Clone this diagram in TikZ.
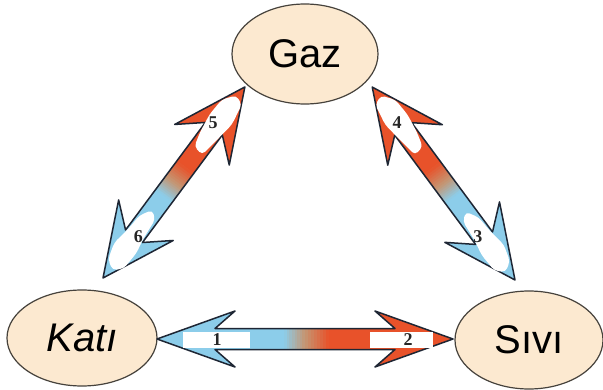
\documentclass[tikz,border=0pt]{standalone}
\usepackage{fontspec}
\setmainfont{Liberation Sans}
\newfontfamily\numfont{Liberation Serif}
\usetikzlibrary{shapes.geometric}
\definecolor{cblue}{RGB}{140,205,234}
\definecolor{cred}{RGB}{232,82,42}
\definecolor{ctan}{RGB}{196,150,115}
\definecolor{cline}{RGB}{30,38,52}
\definecolor{cbeige}{RGB}{252,233,208}
\definecolor{cring}{RGB}{70,66,60}
\tikzset{
  bubble/.style={ellipse, draw=cring, line width=1.2pt, fill=cbeige, inner sep=0pt,
    font=\fontsize{40}{40}\selectfont},
  arrowline/.style={draw=cline, line width=1.5pt, line join=round},
  numlab/.style={font=\numfont\bfseries\fontsize{18}{18}\selectfont, text=black!85, inner sep=0pt},
  patch/.style={fill=white},
}
% #1 length, #2 barb half width, #3 barb distance, #4 join distance
\newcommand\arrowbody[4]{%
  \begin{scope}
    \clip (0,0) -- (#3,#2) -- (#4,10.5) -- ({#1-#4},10.5) -- ({#1-#3},#2) -- (#1,0)
      -- ({#1-#3},-#2) -- ({#1-#4},-10.5) -- (#4,-10.5) -- (#3,-#2) -- cycle;
    \fill[cblue] (-2,-40) rectangle ({0.43*#1+0.5},40);
    \fill[cred] ({0.58*#1},-40) rectangle ({#1+2},40);
    \foreach \i in {0,...,7}{%
      \pgfmathtruncatemacro\mixp{round((\i+0.5)/8*100)}%
      \fill[ctan!\mixp!cblue] ({(0.43+0.00875*\i)*#1},-40) rectangle ({(0.43+0.00875*(\i+1))*#1+0.6},40);}
    \foreach \i in {0,...,7}{%
      \pgfmathtruncatemacro\mixp{round((\i+0.5)/8*100)}%
      \fill[cred!\mixp!ctan] ({(0.5+0.01*\i)*#1},-40) rectangle ({(0.5+0.01*(\i+1))*#1+0.6},40);}
  \end{scope}
  \draw[arrowline] (0,0) -- (#3,#2) -- (#4,10.5) -- ({#1-#4},10.5) -- ({#1-#3},#2) -- (#1,0)
      -- ({#1-#3},-#2) -- ({#1-#4},-10.5) -- (#4,-10.5) -- (#3,-#2) -- cycle;
}
\begin{document}
\begin{tikzpicture}[x=1pt,y=1pt]
\useasboundingbox (0,0) rectangle (603,389);
\fill[white] (0,0) rectangle (603,389);

\node[bubble, minimum width=146pt, minimum height=100pt] (gaz) at (305,335) {Gaz};
\node[bubble, minimum width=150pt, minimum height=96pt] (kati) at (82,51) {\itshape Katı};
\node[bubble, minimum width=148pt, minimum height=98pt] (sivi) at (529,49) {Sıvı};

\coordinate (h0) at (157,50);
\coordinate (l0) at (103,111);
\coordinate (r0) at (515,109);

% horizontal arrow: Kati <-> Sivi
\begin{scope}[shift={(h0)}]
  \arrowbody{296}{28}{78}{58}
  \fill[patch] (26,-9) rectangle (93,7);
  \fill[patch] (213,-9) rectangle (276,7);
  \node[numlab] (n1) at (60,-1) {1};
  \node[numlab] (n2) at (251,-1) {2};
\end{scope}

% left arrow: Kati <-> Gaz
\begin{scope}[shift={(l0)}, rotate=53.4]
  \arrowbody{238}{34}{72}{52}
  \fill[patch, rounded corners=4pt] (12,-3) -- (20,-11) -- (40,-12) -- (55,-9) -- (78,-7)
     -- (84,1) -- (72,8) -- (55,9) -- (35,12) -- (18,7) -- cycle;
  \fill[patch, rounded corners=4pt] (158,-6) -- (178,-9) -- (200,-12) -- (222,-8)
     -- (226,2) -- (214,11) -- (195,12) -- (175,9) -- (160,5) -- cycle;
  \node[numlab] (n6) at (54,-4) {6};
  \node[numlab] (n5) at (190,4) {5};
\end{scope}

% right arrow: Sivi <-> Gaz
\begin{scope}[shift={(r0)}, rotate=126.5]
  \arrowbody{240}{34}{72}{52}
  \fill[patch, rounded corners=4pt] (12,3) -- (20,11) -- (40,12) -- (55,9) -- (78,7)
     -- (84,-1) -- (72,-8) -- (55,-9) -- (35,-12) -- (18,-7) -- cycle;
  \fill[patch, rounded corners=4pt] (160,6) -- (180,9) -- (202,12) -- (224,8)
     -- (228,-2) -- (216,-11) -- (197,-12) -- (177,-9) -- (162,-5) -- cycle;
  \node[numlab] (n3) at (57,4) {3};
  \node[numlab] (n4) at (197,1) {4};
\end{scope}
\end{tikzpicture}
\end{document}
